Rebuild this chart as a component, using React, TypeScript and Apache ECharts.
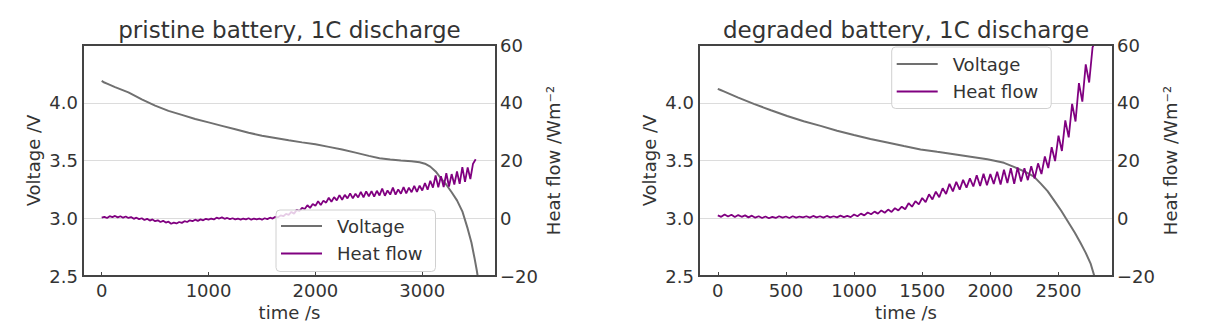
import React, { useEffect, useRef } from "react";
import * as echarts from "echarts";

// ---------- data ----------
const FONT = "'DejaVu Sans', sans-serif";

const pristineTitle = "pristine battery, 1C discharge";
const degradedTitle = "degraded battery, 1C discharge";

const pristineXTicks = [0, 1000, 2000, 3000];
const degradedXTicks = [0, 500, 1000, 1500, 2000, 2500];

// voltage curves (time s, voltage V)
const pristineVoltTime = [0, 25, 50, 125, 250, 375, 500, 625, 750, 875, 1000, 1125, 1250, 1375, 1500, 1625, 1750, 1875, 2000, 2125, 2250, 2375, 2500, 2600, 2700, 2800, 2900, 2975, 3025, 3075, 3125, 3175, 3225, 3275, 3325, 3375, 3425, 3460, 3490, 3510, 3525];
const pristineVolt = [4.19, 4.175, 4.165, 4.135, 4.09, 4.03, 3.975, 3.93, 3.895, 3.86, 3.83, 3.8, 3.77, 3.74, 3.715, 3.695, 3.675, 3.657, 3.64, 3.618, 3.595, 3.568, 3.54, 3.52, 3.508, 3.5, 3.493, 3.485, 3.472, 3.447, 3.405, 3.345, 3.29, 3.225, 3.155, 3.06, 2.91, 2.79, 2.65, 2.55, 2.46];

const degradedVoltTime = [0, 20, 40, 150, 264, 390, 509, 630, 754, 875, 999, 1120, 1244, 1365, 1488, 1610, 1733, 1855, 1978, 2040, 2100, 2173, 2250, 2320, 2370, 2420, 2470, 2520, 2570, 2620, 2660, 2700, 2735, 2768];
const degradedVolt = [4.12, 4.11, 4.1, 4.045, 3.99, 3.935, 3.885, 3.84, 3.8, 3.758, 3.72, 3.686, 3.656, 3.625, 3.596, 3.575, 3.555, 3.533, 3.51, 3.496, 3.48, 3.445, 3.405, 3.36, 3.3, 3.235, 3.15, 3.065, 2.97, 2.875, 2.79, 2.7, 2.61, 2.48];

// heat flow, sampled every HEAT_STEP seconds (W m^-2)
const HEAT_STEP = 25;
const pristineHeat = [
  0.2, 0.5, 0.1, 0.7, 0.4, 0.8, 0.3, 0.7, 0.2, 0.6,
  0.1, 0.4, -0.2, 0.2, -0.3, 0.0, -0.6, -0.2, -0.8, -0.4,
  -1.0, -0.7, -1.3, -0.9, -1.5, -1.2, -1.9, -1.5, -1.8, -1.3,
  -1.6, -1.0, -1.3, -0.7, -1.0, -0.5, -0.9, -0.4, -0.7, -0.2,
  -0.5, -0.1, -0.4, 0.2, -0.1, 0.3, -0.2, 0.1, -0.3, 0.0,
  -0.4, -0.1, -0.5, -0.1, -0.4, 0.0, -0.5, -0.1, -0.4, -0.1,
  -0.5, 0.0, -0.3, 0.2, -0.1, 0.5, 0.3, 1.0, 0.7, 1.5,
  1.2, 2.2, 1.6, 2.9, 2.5, 3.6, 3.2, 4.5, 3.6, 4.9,
  4.3, 5.9, 4.6, 6.1, 5.4, 7.1, 5.7, 7.3, 6.2, 8.0,
  6.4, 8.1, 6.9, 8.6, 6.9, 8.5, 7.2, 9.1, 7.2, 9.3,
  7.6, 9.4, 7.5, 9.5, 7.9, 10.3, 7.8, 9.6, 8.2, 10.6,
  8.2, 10.0, 8.5, 10.8, 8.6, 10.6, 9.0, 11.2, 9.1, 11.3,
  9.6, 12.2, 9.9, 13.0, 10.6, 14.8, 10.7, 14.6, 10.8, 15.6,
  11.0, 15.3, 11.7, 16.2, 11.9, 17.7, 12.6, 17.6, 13.6, 18.9,
  20.4,
];
const degradedHeat = [
  1.0, 0.5, 1.3, 0.6, 1.2, 0.4, 1.1, 0.5, 1.0, 0.3,
  0.9, 0.2, 0.7, 0.1, 0.6, 0.0, 0.5, 0.1, 0.7, 0.2,
  0.6, 0.1, 0.7, 0.2, 0.6, 0.3, 0.7, 0.2, 0.8, 0.3,
  0.7, 0.2, 0.8, 0.3, 0.7, 0.3, 0.9, 0.4, 0.8, 0.4,
  1.3, 0.7, 1.6, 1.0, 2.0, 1.4, 2.3, 1.6, 2.7, 1.9,
  3.0, 2.2, 3.5, 2.7, 4.0, 3.1, 5.2, 4.0, 5.9, 4.8,
  7.0, 5.6, 8.3, 6.5, 9.2, 7.3, 10.4, 8.4, 11.9, 9.3,
  12.6, 9.9, 13.3, 10.6, 13.8, 11.0, 14.9, 11.2, 15.4, 11.4,
  15.3, 11.9, 16.1, 11.7, 16.8, 12.2, 17.3, 11.9, 17.6, 12.7,
  17.3, 13.2, 18.0, 13.8, 19.0, 15.3, 21.4, 17.4, 24.6, 19.8,
  28.6, 23.3, 33.9, 28.0, 39.6, 33.5, 46.8, 40.4, 53.3, 47.0,
  59.2, 62.0,
];

const legendNames = ["Voltage", "Heat flow"];
const voltageColor = "#707070";
const heatColor = "#800080";

// ---------- helpers ----------
const pairs = (xs: number[], ys: number[]) => xs.map((x, i) => [x, ys[i]]);
const stepped = (ys: number[]) => ys.map((y, i) => [i * HEAT_STEP, y]);
const minusFmt = (v: number) => (v < 0 ? "\u2212" + Math.abs(v) : String(v));

const textBase = { color: "#333", fontFamily: FONT, fontSize: 18 };
const FRAME_COLOR = "#444444";

function xAxisFor(gridIndex: number, min: number, max: number, ticks: number[]) {
  return {
    type: "value",
    gridIndex,
    min,
    max,
    axisLine: { show: true, onZero: false, lineStyle: { color: FRAME_COLOR, width: 2 } },
    axisTick: { show: true, inside: true, length: 4, customValues: ticks, lineStyle: { color: FRAME_COLOR } },
    axisLabel: { customValues: ticks, margin: 5, ...textBase, formatter: (v: number) => String(v) },
    splitLine: { show: false },
    name: "time /s",
    nameLocation: "middle",
    nameGap: 27,
    nameTextStyle: { ...textBase },
  };
}

function voltAxis(gridIndex: number) {
  return {
    type: "value",
    gridIndex,
    position: "left",
    min: 2.5,
    max: 4.5,
    interval: 0.5,
    axisLine: { show: true, onZero: false, lineStyle: { color: FRAME_COLOR, width: 2 } },
    axisTick: { show: false },
    axisLabel: {
      margin: 5,
      ...textBase,
      formatter: (v: number) => (v > 4.4 ? "" : v.toFixed(1)),
    },
    splitLine: { show: true, lineStyle: { color: "#dcdcdc", width: 1 } },
    name: "Voltage /V",
    nameLocation: "middle",
    nameRotate: 90,
    nameGap: 41,
    nameTextStyle: { ...textBase },
  };
}

function heatAxis(gridIndex: number) {
  return {
    type: "value",
    gridIndex,
    position: "right",
    min: -20,
    max: 60,
    interval: 20,
    axisLine: { show: true, onZero: false, lineStyle: { color: FRAME_COLOR, width: 2 } },
    axisTick: { show: false },
    axisLabel: { margin: 4, ...textBase, formatter: minusFmt },
    splitLine: { show: false },
    name: "Heat flow /Wm\u207B\u00B2",
    nameLocation: "middle",
    nameRotate: 90,
    nameGap: 48,
    nameTextStyle: { ...textBase },
  };
}

function legendAt(left: number, top: number, pad: number[]) {
  return {
    orient: "vertical",
    left,
    top,
    data: legendNames,
    padding: pad,
    icon: "rect",
    itemWidth: 41,
    itemHeight: 2,
    itemGap: 9.5,
    backgroundColor: "rgba(255,255,255,0.8)",
    borderColor: "#d0d0d0",
    borderWidth: 1,
    borderRadius: 4,
    textStyle: { ...textBase, lineHeight: 18, padding: [0, 0, 0, 10] },
    selectedMode: false,
  };
}

export default function App() {
  const ref = useRef<HTMLDivElement>(null);

  useEffect(() => {
    document.body.style.margin = "0";
    if (!ref.current) return;
    const chart = echarts.init(ref.current, undefined, { renderer: "svg" });

    const gridTop = 45;
    const gridH = 231;
    const g0 = { left: 83, width: 413 };
    const g1 = { left: 699, width: 414 };

    // plot frames drawn as four separate edges
    const frameEdges = (g: { left: number; width: number }) => {
      const l = g.left, r = g.left + g.width, t = gridTop, b = gridTop + gridH;
      const edge = (x1: number, y1: number, x2: number, y2: number) => ({
        type: "line",
        z: 60,
        shape: { x1, y1, x2, y2 },
        style: { stroke: FRAME_COLOR, lineWidth: 2 },
      });
      return [edge(l, t, r, t), edge(r, t, r, b), edge(l, b, r, b), edge(l, t, l, b)];
    };

    chart.setOption({
      animation: false,
      grid: [
        { left: g0.left, top: gridTop, width: g0.width, height: gridH, show: true, borderColor: FRAME_COLOR, borderWidth: 2 },
        { left: g1.left, top: gridTop, width: g1.width, height: gridH, show: true, borderColor: FRAME_COLOR, borderWidth: 2 },
      ],
      xAxis: [
        xAxisFor(0, -175, 3690, pristineXTicks),
        xAxisFor(1, -138, 2900, degradedXTicks),
      ],
      yAxis: [voltAxis(0), heatAxis(0), voltAxis(1), heatAxis(1)],
      legend: [
        legendAt(276, 210, [7, 13, 9, 5]),
        legendAt(891.7, 47, [8, 13, 8, 5]),
      ],
      graphic: [
        ...frameEdges(g0),
        ...frameEdges(g1),
        {
          type: "text",
          x: g0.left + g0.width / 2,
          y: 30,
          style: { text: pristineTitle, fontSize: 23, fontFamily: FONT, fill: "#333", align: "center", verticalAlign: "middle" },
        },
        {
          type: "text",
          x: g1.left + g1.width / 2,
          y: 30,
          style: { text: degradedTitle, fontSize: 23, fontFamily: FONT, fill: "#333", align: "center", verticalAlign: "middle" },
        },
      ],
      series: [
        {
          name: "Voltage", type: "line", xAxisIndex: 0, yAxisIndex: 0, data: pairs(pristineVoltTime, pristineVolt),
          showSymbol: false, symbol: "none",
          lineStyle: { color: voltageColor, width: 2 }, itemStyle: { color: voltageColor },
        },
        {
          name: "Heat flow", type: "line", xAxisIndex: 0, yAxisIndex: 1, data: stepped(pristineHeat),
          showSymbol: false, symbol: "none", lineStyle: { color: heatColor, width: 1.8 }, itemStyle: { color: heatColor },
        },
        {
          name: "Voltage", type: "line", xAxisIndex: 1, yAxisIndex: 2, data: pairs(degradedVoltTime, degradedVolt),
          showSymbol: false, symbol: "none",
          lineStyle: { color: voltageColor, width: 2 }, itemStyle: { color: voltageColor },
        },
        {
          name: "Heat flow", type: "line", xAxisIndex: 1, yAxisIndex: 3, data: stepped(degradedHeat),
          showSymbol: false, symbol: "none", lineStyle: { color: heatColor, width: 1.8 }, itemStyle: { color: heatColor },
        },
      ],
    });

    return () => chart.dispose();
  }, []);

  return <div ref={ref} style={{ width: 1228, height: 331 }} />;
}
